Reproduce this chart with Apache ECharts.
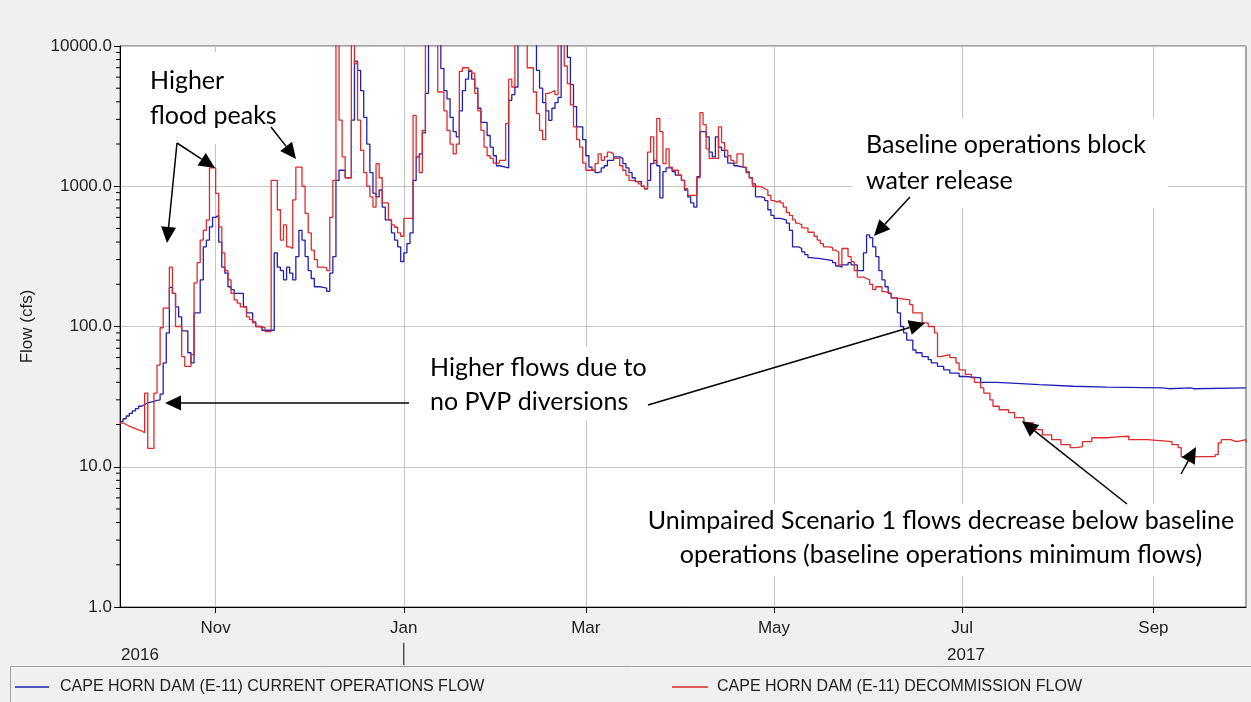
<!DOCTYPE html>
<html>
<head>
<meta charset="utf-8">
<title>Cape Horn Dam (E-11) flow</title>
<script src="https://cdn.jsdelivr.net/npm/echarts@6/dist/echarts.min.js"></script>
<style>
    html, body { margin: 0; padding: 0; background: #f0f0f0; }
    #main { width: 1251px; height: 702px; }
</style>
</head>
<body>
<div id="main"></div>
<script>
// day numbers are counted from 2016-10-01 (start of the water year)
var curDay = [0,1,2,3,4,5,6,7,8,9,11,12,13,14,15,16,17,18,19,20,22,23,24,26,27,28,29,30,31,32,33,34,35,36,37,40,41,43,44,46,
    50,51,52,53,54,55,56,57,58,59,60,61,62,63,65,67,68,69,70,71,73,75,76,77,78,79,80,81,82,83,84,85,86,88,89,90,91,92,93,94,95,96,97,98,99,100,
    104,105,106,107,108,109,110,111,112,113,114,115,116,117,119,120,121,122,123,125,126,127,128,129,135,136,137,138,139,140,141,142,143,145,146,147,148,150,
    151,152,153,154,155,156,157,158,160,162,163,164,165,166,167,169,170,171,172,173,174,175,176,177,179,180,182,183,184,185,186,187,188,190,191,192,193,194,195,196,197,199,200,
    202,203,204,205,206,208,209,210,211,212,214,216,217,218,220,221,222,223,224,227,229,231,232,233,234,236,237,239,241,242,243,244,245,246,247,248,249,250,
    252,253,254,255,257,258,260,262,263,265,267,269,272,274,279,284,289,298,309,320,338,340,347,348,365];
var curFlow = [21,22,23,24,25,26,27,27.8,28.5,29.2,29.7,30,33,55,90,190,172,138,117,93,65,55,125,215,370,413,513,600,620,400,265,240,192,183,172,138,125,108,100,94,
    335,265,250,215,265,240,215,315,485,413,315,250,220,192,188,178,240,315,1100,1300,1150,2960,7800,6700,4800,3100,2000,1250,890,840,940,710,575,465,413,370,290,335,390,465,1100,1620,1700,2400,4600,12000,
    6900,4800,4200,3100,2450,2250,3450,4800,5800,6600,5800,5000,3600,2850,2300,1900,1650,1400,1370,1350,4100,4500,5100,12000,6700,5000,3950,3450,2950,3600,3950,4300,12000,8300,5300,3700,2650,2150,
    1650,1370,1300,1250,1270,1350,1400,1530,1620,1580,1450,1350,1250,1150,1080,1000,960,1100,1450,1530,1400,825,1270,1350,1270,1200,1100,940,840,760,710,1170,2450,2250,1750,1620,2250,1900,1800,1620,1460,1400,1370,
    1350,1250,1150,1040,840,825,790,680,620,590,575,545,485,370,360,340,325,310,305,300,295,285,270,265,275,285,275,250,335,450,430,370,315,250,215,192,172,160,
    125,100,90,80,68,65,61,58,55,52,49,46.5,44,43,40,39.5,38.5,37.5,37,36.5,36,36.5,36,36.5,36.5];

var decDay = [0,1,2,3,4,5,6,7,8,9,11,12,13,14,16,17,18,20,21,23,24,25,26,27,28,29,31,32,33,34,35,36,37,38,39,41,42,43,44,45,47,
    49,51,52,53,54,55,56,57,59,60,61,62,63,64,66,67,68,69,70,71,72,73,75,76,77,78,79,80,81,82,83,84,85,87,88,89,90,91,92,95,96,97,98,99,
    103,105,106,107,108,109,110,111,113,114,115,116,117,118,119,120,121,123,125,126,127,128,132,134,135,136,137,138,139,140,141,142,144,145,146,147,148,149,150,
    151,154,155,156,157,158,159,160,162,163,164,165,166,168,169,170,171,172,173,174,175,176,177,178,179,181,182,183,184,187,188,189,190,191,194,195,196,197,198,199,200,
    202,203,204,205,206,208,209,210,211,212,213,214,215,216,217,218,219,220,221,223,225,226,227,228,230,231,232,233,234,236,237,238,239,241,242,243,244,245,247,248,250,
    251,256,257,260,262,264,265,266,269,271,272,274,276,277,279,280,282,283,285,288,290,293,296,299,302,305,308,310,312,315,320,324,327,333,341,343,344,355,356,357,360,362,365];
var decFlow = [20.5,20,19.5,19.1,18.7,18.3,18,17.5,33.5,13.5,33.5,53,98,135,265,172,100,61,52,63,205,285,413,485,575,1350,890,513,335,250,215,172,155,147,138,117,112,106,100,98,92,
    1100,680,413,530,370,360,800,1370,1000,640,465,350,300,265,262,250,600,1100,12000,2960,1620,1150,12000,7500,2960,1800,1250,1000,840,710,1450,1150,760,575,530,510,465,440,590,3200,1620,1250,2500,12000,
    4700,3450,2500,2000,1700,2000,6600,7000,6700,6400,4600,3450,2500,1900,1650,1580,1460,1530,2800,5800,5100,12000,7000,4700,3300,2500,2150,4600,4700,4800,4500,12000,7200,5400,3800,2650,2150,1900,1460,
    1300,1450,1700,1530,1620,1750,1700,1580,1400,1300,1200,1100,1080,1040,1000,960,1750,2250,1460,3050,2450,1450,1850,1370,1300,1200,1100,960,860,1150,3350,2750,1850,1580,2650,2050,1800,1650,1530,1460,1700,
    1370,1270,1150,1000,990,960,940,860,790,770,790,760,710,650,620,575,545,530,505,470,440,413,390,370,365,350,340,275,360,315,290,250,225,220,215,200,183,192,177,172,160,
    155,143,125,106,100,90,61,63,60,55,49,45.5,43,40,36.5,33.5,30,27,25.5,24.3,22.4,20.6,18.4,16.9,15.6,14.4,13.7,13.9,15.1,16.1,16.4,16.5,15.6,15.1,14.4,13.7,11.8,12.2,14.8,15.6,15.1,15.6,14.8];

var monthTicks = ['2016-11-01', '2017-01-01', '2017-03-01', '2017-05-01', '2017-07-01', '2017-09-01'];
var monthLabels = ['Nov', 'Jan', 'Mar', 'May', 'Jul', 'Sep'];
var yearLabels = ['2016', '2017'];
var seriesNames = ['CAPE HORN DAM (E-11) CURRENT OPERATIONS FLOW', 'CAPE HORN DAM (E-11) DECOMMISSION FLOW'];

/*日期转换*/
function dayToTime(d) {
    return new Date(2016, 9, 1 + d).getTime();
}
function strToTime(s) {
    var p = s.split('-');
    return new Date(+p[0], +p[1] - 1, +p[2]).getTime();
}
function pairs(days, vals) {
    return days.map(function (d, i) { return [dayToTime(d), vals[i]]; });
}

var tickTimes = monthTicks.map(strToTime);
var axisFont = 'Liberation Sans';
var noteFont = '25px Lato';

var chart = echarts.init(document.getElementById('main'));
var option = {
    backgroundColor: '#f0f0f0',
    animation: false,
    grid: {
        left: 120, right: 5, top: 46, bottom: 95,
        show: true, backgroundColor: '#fff', borderColor: '#555', borderWidth: 1
    },
    legend: [
        {
            data: [seriesNames[0]], left: 10, top: 674,
            icon: 'rect', itemWidth: 34, itemHeight: 1.5,
            textStyle: { fontFamily: axisFont, fontSize: 16, color: '#222', padding: [0, 0, 0, 6] }
        },
        {
            data: [seriesNames[1]], left: 667, top: 674,
            icon: 'rect', itemWidth: 36, itemHeight: 1.5,
            textStyle: { fontFamily: axisFont, fontSize: 16, color: '#222', padding: [0, 0, 0, 4] }
        }
    ],
    xAxis: {
        // timestamps on a plain value axis so the month ticks can be placed exactly
        type: 'value',
        min: dayToTime(0),
        max: dayToTime(365),
        axisLine: { lineStyle: { color: '#000' } },
        axisTick: { customValues: tickTimes, length: 6, lineStyle: { color: '#000' } },
        axisLabel: {
            customValues: tickTimes,
            margin: 13,
            fontFamily: axisFont, fontSize: 17, color: '#222',
            formatter: function (v) {
                var i = tickTimes.indexOf(v);
                return i >= 0 ? monthLabels[i] : '';
            }
        },
        splitLine: { show: true, lineStyle: { color: '#c4c4c4' } }
    },
    yAxis: {
        type: 'log',
        logBase: 10,
        min: 1,
        max: 10000,
        name: 'Flow (cfs)',
        nameLocation: 'middle',
        nameGap: 84,
        nameTextStyle: { fontFamily: axisFont, fontSize: 17, color: '#222' },
        axisLine: { show: true, lineStyle: { color: '#000' } },
        axisTick: { show: true, length: 6, lineStyle: { color: '#000' } },
        axisLabel: {
            margin: 8, fontFamily: axisFont, fontSize: 17, color: '#222',
            formatter: function (v) { return Number(v).toFixed(1); }
        },
        splitLine: { show: true, lineStyle: { color: '#c4c4c4' } }
    },
    series: [
        {
            name: seriesNames[0], type: 'line', step: 'end',
            showSymbol: false, symbol: 'none', clip: true,
            lineStyle: { width: 1.3, color: '#1f1fb4' }, itemStyle: { color: '#1f1fb4' },
            data: pairs(curDay, curFlow)
        },
        {
            name: seriesNames[1], type: 'line', step: 'end',
            showSymbol: false, symbol: 'none', clip: true,
            lineStyle: { width: 1.3, color: '#de2a2a' }, itemStyle: { color: '#de2a2a' },
            data: pairs(decDay, decFlow)
        }
    ]
};
chart.setOption(option);

/*注释: 白底文字框 + 箭头*/
var g = [];
function box(x, y, w, h) {
    g.push({ type: 'rect', z: 50, shape: { x: x, y: y, width: w, height: h }, style: { fill: '#fff' } });
}
function note(text, x, y, align) {
    g.push({
        type: 'text', z: 52, x: x, y: y,
        style: { text: text, font: noteFont, fill: '#000', textAlign: align || 'left', textVerticalAlign: 'middle' }
    });
}
function arrow(x1, y1, x2, y2) {
    var dx = x2 - x1, dy = y2 - y1, len = Math.sqrt(dx * dx + dy * dy);
    var ux = dx / len, uy = dy / len, hl = 16, hw = 7.5;
    var bx = x2 - ux * hl, by = y2 - uy * hl;
    g.push({ type: 'line', z: 53, shape: { x1: x1, y1: y1, x2: bx, y2: by }, style: { stroke: '#000', lineWidth: 1.5 } });
    g.push({
        type: 'polygon', z: 53,
        shape: { points: [[x2, y2], [bx - uy * hw, by + ux * hw], [bx + uy * hw, by - ux * hw]] },
        style: { fill: '#000' }
    });
}

box(140, 52, 146, 92);
note('Higher', 150, 81);
note('flood peaks', 150, 116);
arrow(177, 143, 167, 243);
arrow(177, 143, 215, 168);
arrow(271, 127, 296, 159);

box(852, 118, 316, 90);
note('Baseline operations block', 866, 145);
note('water release', 866, 181);
arrow(910, 197, 874, 236);

box(418, 346, 238, 74);
note('Higher flows due to', 430, 368);
note('no PVP diversions', 430, 402);
arrow(409, 403, 165, 403);
arrow(648, 405, 925, 323);

box(640, 504, 602, 72);
note('Unimpaired Scenario 1 flows decrease below baseline', 941, 521, 'center');
note('operations (baseline operations minimum flows)', 941, 555, 'center');
arrow(1127, 504, 1022, 421);
arrow(1181, 474, 1196, 447);

/*y轴次刻度 (2..9)*/
var x0 = chart.convertToPixel({ xAxisIndex: 0 }, dayToTime(0));
for (var dec = 1; dec <= 1000; dec *= 10) {
    for (var k = 2; k <= 9; k++) {
        var py = chart.convertToPixel({ yAxisIndex: 0 }, dec * k);
        g.push({ type: 'line', z: 40, shape: { x1: x0 - 4, y1: py, x2: x0, y2: py }, style: { stroke: '#000', lineWidth: 1 } });
    }
}

/*年份标签和分隔刻度*/
var janX = chart.convertToPixel({ xAxisIndex: 0 }, strToTime('2017-01-01'));
g.push({ type: 'line', z: 40, shape: { x1: janX, y1: 643, x2: janX, y2: 665 }, style: { stroke: '#000', lineWidth: 1 } });
g.push({ type: 'text', z: 40, x: 140, y: 655, style: { text: yearLabels[0], font: '17px ' + axisFont, fill: '#222', textAlign: 'center', textVerticalAlign: 'middle' } });
g.push({ type: 'text', z: 40, x: 966, y: 655, style: { text: yearLabels[1], font: '17px ' + axisFont, fill: '#222', textAlign: 'center', textVerticalAlign: 'middle' } });

/*图例边框*/
g.push({ type: 'rect', z: 1, shape: { x: 10.5, y: 666.5, width: 1250, height: 40 }, style: { fill: 'none', stroke: '#a0a0a0', lineWidth: 1 } });

chart.setOption({ graphic: g });
window.addEventListener('resize', function () { chart.resize(); });
</script>
</body>
</html>
